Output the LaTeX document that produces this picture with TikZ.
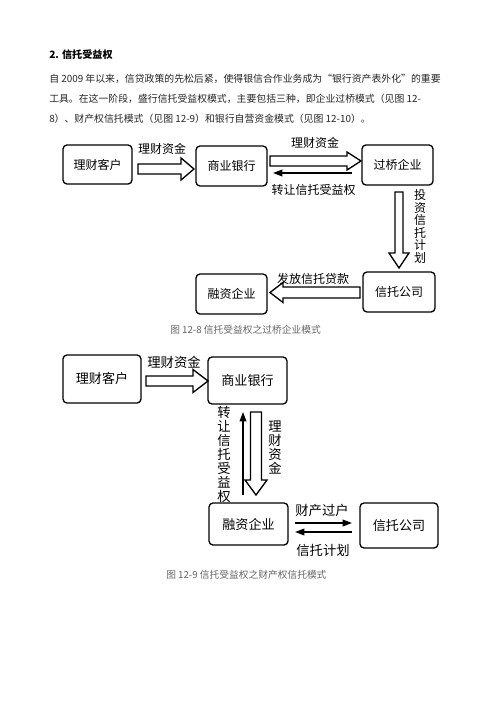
\documentclass[tikz,border=0pt]{standalone}
\usepackage{fontspec}
\newfontfamily\cjk{Noto Sans CJK SC}
\usetikzlibrary{calc,arrows.meta}
\newcommand\hollowarrow[5]{% #1 tail, #2 tip, #3 shaft half width, #4 head half width, #5 head length (px)
  \path ($(#2)!#5*0.75pt!(#1)$) coordinate (hbx);
  \draw[hollowline] ($(#1)!#3*0.75pt!90:(#2)$) -- ($(hbx)!#3*0.75pt!90:(#2)$) -- ($(hbx)!#4*0.75pt!90:(#2)$) -- (#2)
    -- ($(hbx)!#4*0.75pt!-90:(#2)$) -- ($(hbx)!#3*0.75pt!-90:(#2)$) -- ($(#1)!#3*0.75pt!-90:(#2)$) -- cycle;}
\begin{document}
\begin{tikzpicture}[x=0.75pt,y=-0.75pt,
  box/.style 2 args={draw, line width=1pt, rounded corners=3pt, inner sep=0pt,
     minimum width=#1*0.75pt, minimum height=#2*0.75pt},
  bfont/.style={font=\cjk\fontsize{9}{9}\selectfont},
  bfontb/.style={font=\cjk\fontsize{9.8}{9.8}\selectfont},
  lbl/.style={inner sep=0pt, font=\cjk\fontsize{9}{9}\selectfont},
  lblb/.style={inner sep=0pt, font=\cjk\fontsize{10}{10}\selectfont},
  vlbl/.style={inner sep=0pt, align=center, font=\cjk\fontsize{9}{9.45}\selectfont},
  vlblb/.style={inner sep=0pt, align=center, font=\cjk\fontsize{10}{10.5}\selectfont},
  hollowline/.style={draw, line width=1pt, fill=white, line join=miter},
  thinarrow/.style={line width=1.1pt, -{Triangle[length=7pt,width=5pt]}},
  bodytext/.style={inner sep=0pt, anchor=west, text=black!85, font=\cjk\fontsize{7.4}{7.4}\selectfont},
  captext/.style={inner sep=0pt, anchor=west, text=black!60, font=\cjk\fontsize{7.3}{7.3}\selectfont}
]
\useasboundingbox[fill=white] (0,0) rectangle (500,707);

% heading and body text
\node[inner sep=0pt, anchor=west, font=\cjk\bfseries\fontsize{7.6}{7.6}\selectfont] (head) at (49,55) {2. 信托受益权};
\node[bodytext] (l1) at (49,79) {自 2009 年以来，信贷政策的先松后紧，使得银信合作业务成为“银行资产表外化”的重要};
\node[bodytext] (l2) at (49,99) {工具。在这一阶段，盛行信托受益权模式，主要包括三种，即企业过桥模式（见图 12-};
\node[bodytext] (l3) at (49,119) {8）、财产权信托模式（见图 12-9）和银行自营资金模式（见图 12-10）。};

% ---------- Figure 12-8 ----------
\node[box={69}{39}, bfont] (cust1) at (97.5,164.5) {理财客户};
\node[box={71}{40}, bfont] (bank1) at (231.5,166) {商业银行};
\node[box={71}{40}, bfont] (bridge) at (397.5,165) {过桥企业};
\node[box={72}{40}, bfont] (trust1) at (399,292) {信托公司};
\node[box={71}{40}, bfont] (fin1) at (231.5,294) {融资企业};

\coordinate (a1t) at (138,169); \coordinate (a1h) at (194,169);
\hollowarrow{a1t}{a1h}{5}{11}{13}
\node[lbl] (a1l) at (162,149) {理财资金};

\coordinate (a2t) at (270,161); \coordinate (a2h) at (361,161);
\hollowarrow{a2t}{a2h}{5}{9}{14}
\node[lbl] (a2l) at (315,143) {理财资金};

\coordinate (a3t) at (352,173); \coordinate (a3h) at (273,173);
\draw[thinarrow] (a3t) -- (a3h);
\node[lbl] (a3l) at (313.5,190) {转让信托受益权};

\coordinate (a4t) at (399,192); \coordinate (a4h) at (399,268);
\hollowarrow{a4t}{a4h}{4}{10}{15}
\node[vlbl] (a4l) at (420,226.5) {投\\资\\信\\托\\计\\划};

\coordinate (a5t) at (360,292.5); \coordinate (a5h) at (270,292.5);
\hollowarrow{a5t}{a5h}{5.5}{10}{13}
\node[lbl] (a5l) at (313,279) {发放信托贷款};

\node[captext] (cap1) at (170,330) {图 12-8 信托受益权之过桥企业模式};

% ---------- Figure 12-9 ----------
\node[box={78}{48}, bfontb] (cust2) at (102,379) {理财客户};
\node[box={79}{47}, bfontb] (bank2) at (247.5,380.5) {商业银行};
\node[box={79}{42}, bfontb] (fin2) at (248.5,524) {融资企业};
\node[box={78}{45}, bfontb] (trust2) at (399,525.5) {信托公司};

\coordinate (b1t) at (146,381); \coordinate (b1h) at (208,381);
\hollowarrow{b1t}{b1h}{5}{11.5}{15}
\node[lblb] (b1l) at (174,362) {理财资金};

\coordinate (b2t) at (243,495); \coordinate (b2h) at (243,412);
\draw[thinarrow] (b2t) -- (b2h);
\node[vlblb] (b2l) at (224,454.5) {转\\让\\信\\托\\受\\益\\权};

\coordinate (b3t) at (256,412); \coordinate (b3h) at (256,495);
\hollowarrow{b3t}{b3h}{5.5}{11}{15}
\node[vlblb] (b3l) at (275,447.5) {理\\财\\资\\金};

\coordinate (b4t) at (295,523); \coordinate (b4h) at (352,523);
\draw[thinarrow] (b4t) -- (b4h);
\node[lblb] (b4l) at (322,510) {财产过户};

\coordinate (b5t) at (352,532); \coordinate (b5h) at (295,532);
\draw[thinarrow] (b5t) -- (b5h);
\node[lblb] (b5l) at (323,550) {信托计划};

\node[captext] (cap2) at (166,575) {图 12-9 信托受益权之财产权信托模式};
\end{tikzpicture}
\end{document}
